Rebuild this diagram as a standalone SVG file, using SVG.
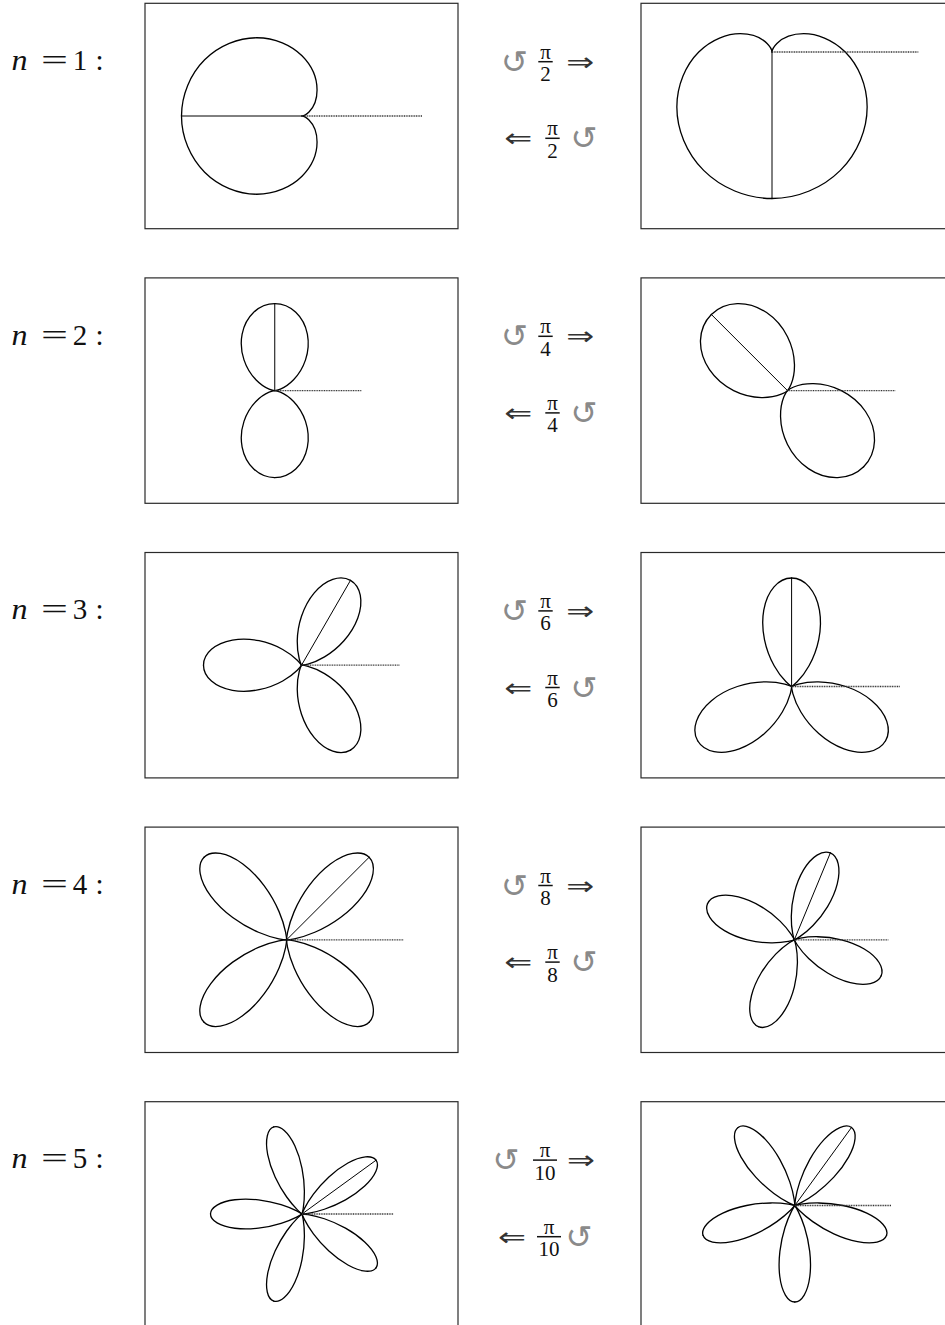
<svg xmlns="http://www.w3.org/2000/svg" xmlns:xlink="http://www.w3.org/1999/xlink" width="945" height="1325" viewBox="0 0 945 1325">
<style>
.box{fill:none;stroke:#2a2a2a;stroke-width:1.2}
.crv{fill:none;stroke:#000;stroke-linecap:round;stroke-linejoin:round}
.dia{stroke:#000;stroke-width:1}
.ref{stroke:#333;stroke-width:1.3;stroke-dasharray:1 0.7}
.lbl{font-family:"Liberation Serif","Times New Roman",serif;font-size:29px;fill:#111}
.it{font-style:italic}
.fr{font-family:"Liberation Serif","Times New Roman",serif;font-size:21px;fill:#111;text-anchor:middle}
.bar{stroke:#111;stroke-width:1.5}
.rot{font-family:"DejaVu Sans",sans-serif;font-size:32px;fill:#8a8a8a;text-anchor:middle;dominant-baseline:central}
.arr{font-family:"DejaVu Sans",sans-serif;font-size:26px;fill:#333;text-anchor:middle;dominant-baseline:central}
</style>
<defs>
<path id="h1" d="M1,0C1,-0.1745 0.9272,-0.3473 0.8080,-0.4665C0.6888,-0.5857 0.5262,-0.6495 0.375,-0.6495C0.2239,-0.6495 0.0873,-0.5873 0,-0.5C-0.0873,-0.4127 -0.125,-0.3038 -0.125,-0.2165C-0.125,-0.1292 -0.0900,-0.0654 -0.0580,-0.0335C-0.0261,-0.0016 0,0 0,0"/>
<path id="h2" d="M1,0C1,-0.0873 0.9644,-0.1741 0.9012,-0.2415C0.8380,-0.3088 0.7477,-0.3561 0.6495,-0.375C0.5513,-0.3939 0.4461,-0.3844 0.3536,-0.3536C0.2610,-0.3227 0.1817,-0.2710 0.125,-0.2165C0.0683,-0.1620 0.0343,-0.1053 0.0173,-0.0647C0.0004,-0.0241 0,0 0,0"/>
<path id="h3" d="M1,0C1,-0.0582 0.9712,-0.1161 0.9188,-0.1620C0.8664,-0.2079 0.7907,-0.2414 0.7048,-0.2565C0.6188,-0.2717 0.5231,-0.2684 0.4330,-0.25C0.3429,-0.2316 0.2588,-0.1981 0.1915,-0.1607C0.1243,-0.1233 0.0741,-0.0822 0.0431,-0.0513C0.0120,-0.0204 0,0 0,0"/>
<path id="h4" d="M1,0C1,-0.0436 0.9736,-0.0871 0.9250,-0.1218C0.8765,-0.1565 0.8059,-0.1821 0.7244,-0.1941C0.6430,-0.2062 0.5509,-0.2046 0.4619,-0.1913C0.3730,-0.1781 0.2874,-0.1533 0.2165,-0.125C0.1456,-0.0967 0.0895,-0.0650 0.0531,-0.0408C0.0167,-0.0165 0,0 0,0"/>
<path id="h5" d="M1,0C1,-0.0349 0.9747,-0.0697 0.9279,-0.0975C0.8811,-0.1254 0.8130,-0.1460 0.7336,-0.1559C0.6542,-0.1658 0.5639,-0.1649 0.4755,-0.1545C0.3871,-0.1441 0.3010,-0.1245 0.2284,-0.1017C0.1558,-0.0789 0.0970,-0.0533 0.0580,-0.0335C0.0191,-0.0137 0,0 0,0"/>
<g id="L1"><use href="#h1"/><use href="#h1" transform="scale(1,-1)"/></g>
<g id="L2"><use href="#h2"/><use href="#h2" transform="scale(1,-1)"/></g>
<g id="L3"><use href="#h3"/><use href="#h3" transform="scale(1,-1)"/></g>
<g id="L4"><use href="#h4"/><use href="#h4" transform="scale(1,-1)"/></g>
<g id="L5"><use href="#h5"/><use href="#h5" transform="scale(1,-1)"/></g>
</defs>
<rect width="945" height="1325" fill="#fff"/>

<!-- Row 1 -->
<g id="row1-label">
<text class="lbl it" x="11.5" y="70" textLength="16" lengthAdjust="spacingAndGlyphs">n</text>
<text class="lbl" x="41" y="70" textLength="27" lengthAdjust="spacingAndGlyphs">=</text>
<text class="lbl" x="80" y="70" text-anchor="middle">1</text>
<text class="lbl" x="99.5" y="70" text-anchor="middle">:</text>
</g>
<g id="row1-left">
<rect class="box" x="145" y="3.3" width="313" height="225.4"/>
<g class="crv" transform="translate(302,116) scale(120.5)" stroke-width="0.0108"><use href="#L1" transform="rotate(180)"/></g>
<line class="dia" x1="302" y1="116" x2="181.5" y2="116"/>
<line class="ref" x1="302" y1="116" x2="422.5" y2="116"/>
</g>
<g id="row1-ops">
<text class="rot" x="514.3" y="61.7">↺</text>
<text class="fr" x="545.5" y="58.7">π</text>
<line class="bar" x1="538.3" y1="61.7" x2="552.7" y2="61.7"/>
<text class="fr" x="545.5" y="81.2">2</text>
<text class="arr" x="580.2" y="61.7" textLength="28" lengthAdjust="spacingAndGlyphs">⇒</text>
<text class="arr" x="518.2" y="138.3" textLength="28" lengthAdjust="spacingAndGlyphs">⇐</text>
<text class="fr" x="552.5" y="135.3">π</text>
<line class="bar" x1="545.3" y1="138.3" x2="559.7" y2="138.3"/>
<text class="fr" x="552.5" y="157.8">2</text>
<text class="rot" x="583.8" y="138.3">↺</text>
</g>
<g id="row1-right">
<rect class="box" x="641" y="3.3" width="313" height="225.4"/>
<g class="crv" transform="translate(772,52) scale(146.5)" stroke-width="0.0089"><use href="#L1" transform="rotate(90)"/></g>
<line class="dia" x1="772" y1="52" x2="772" y2="198.5"/>
<line class="ref" x1="772" y1="52" x2="918.5" y2="52"/>
</g>

<!-- Row 2 -->
<g id="row2-label">
<text class="lbl it" x="11.5" y="344.6" textLength="16" lengthAdjust="spacingAndGlyphs">n</text>
<text class="lbl" x="41" y="344.6" textLength="27" lengthAdjust="spacingAndGlyphs">=</text>
<text class="lbl" x="80" y="344.6" text-anchor="middle">2</text>
<text class="lbl" x="99.5" y="344.6" text-anchor="middle">:</text>
</g>
<g id="row2-left">
<rect class="box" x="145" y="277.9" width="313" height="225.4"/>
<g class="crv" transform="translate(274.75,390.6) scale(87)" stroke-width="0.0149"><use href="#L2" transform="rotate(-90)"/><use href="#L2" transform="rotate(90)"/></g>
<line class="dia" x1="274.75" y1="390.6" x2="274.75" y2="303.6"/>
<line class="ref" x1="274.75" y1="390.6" x2="361.75" y2="390.6"/>
</g>
<g id="row2-ops">
<text class="rot" x="514.3" y="336.3">↺</text>
<text class="fr" x="545.5" y="333.3">π</text>
<line class="bar" x1="538.3" y1="336.3" x2="552.7" y2="336.3"/>
<text class="fr" x="545.5" y="355.8">4</text>
<text class="arr" x="580.2" y="336.3" textLength="28" lengthAdjust="spacingAndGlyphs">⇒</text>
<text class="arr" x="518.2" y="412.9" textLength="28" lengthAdjust="spacingAndGlyphs">⇐</text>
<text class="fr" x="552.5" y="409.9">π</text>
<line class="bar" x1="545.3" y1="412.9" x2="559.7" y2="412.9"/>
<text class="fr" x="552.5" y="432.4">4</text>
<text class="rot" x="583.8" y="412.9">↺</text>
</g>
<g id="row2-right">
<rect class="box" x="641" y="277.9" width="313" height="225.4"/>
<g class="crv" transform="translate(787.5,390.6) scale(107.7)" stroke-width="0.0121"><use href="#L2" transform="rotate(-135)"/><use href="#L2" transform="rotate(45)"/></g>
<line class="dia" x1="787.5" y1="390.6" x2="711.34" y2="314.44"/>
<line class="ref" x1="787.5" y1="390.6" x2="895.2" y2="390.6"/>
</g>

<!-- Row 3 -->
<g id="row3-label">
<text class="lbl it" x="11.5" y="619.2" textLength="16" lengthAdjust="spacingAndGlyphs">n</text>
<text class="lbl" x="41" y="619.2" textLength="27" lengthAdjust="spacingAndGlyphs">=</text>
<text class="lbl" x="80" y="619.2" text-anchor="middle">3</text>
<text class="lbl" x="99.5" y="619.2" text-anchor="middle">:</text>
</g>
<g id="row3-left">
<rect class="box" x="145" y="552.5" width="313" height="225.4"/>
<g class="crv" transform="translate(301.5,665.2) scale(98)" stroke-width="0.0133"><use href="#L3" transform="rotate(-60)"/><use href="#L3" transform="rotate(180)"/><use href="#L3" transform="rotate(60)"/></g>
<line class="dia" x1="301.5" y1="665.2" x2="350.5" y2="580.33"/>
<line class="ref" x1="301.5" y1="665.2" x2="399.5" y2="665.2"/>
</g>
<g id="row3-ops">
<text class="rot" x="514.3" y="610.9">↺</text>
<text class="fr" x="545.5" y="607.9">π</text>
<line class="bar" x1="538.3" y1="610.9" x2="552.7" y2="610.9"/>
<text class="fr" x="545.5" y="630.4">6</text>
<text class="arr" x="580.2" y="610.9" textLength="28" lengthAdjust="spacingAndGlyphs">⇒</text>
<text class="arr" x="518.2" y="687.5" textLength="28" lengthAdjust="spacingAndGlyphs">⇐</text>
<text class="fr" x="552.5" y="684.5">π</text>
<line class="bar" x1="545.3" y1="687.5" x2="559.7" y2="687.5"/>
<text class="fr" x="552.5" y="707">6</text>
<text class="rot" x="583.8" y="687.5">↺</text>
</g>
<g id="row3-right">
<rect class="box" x="641" y="552.5" width="313" height="225.4"/>
<g class="crv" transform="translate(791.6,686.5) scale(108.5)" stroke-width="0.012"><use href="#L3" transform="rotate(-90)"/><use href="#L3" transform="rotate(150)"/><use href="#L3" transform="rotate(30)"/></g>
<line class="dia" x1="791.6" y1="686.5" x2="791.6" y2="578"/>
<line class="ref" x1="791.6" y1="686.5" x2="900.1" y2="686.5"/>
</g>

<!-- Row 4 -->
<g id="row4-label">
<text class="lbl it" x="11.5" y="893.8" textLength="16" lengthAdjust="spacingAndGlyphs">n</text>
<text class="lbl" x="41" y="893.8" textLength="27" lengthAdjust="spacingAndGlyphs">=</text>
<text class="lbl" x="80" y="893.8" text-anchor="middle">4</text>
<text class="lbl" x="99.5" y="893.8" text-anchor="middle">:</text>
</g>
<g id="row4-left">
<rect class="box" x="145" y="827.1" width="313" height="225.4"/>
<g class="crv" transform="translate(286.6,939.8) scale(116.7)" stroke-width="0.0111"><use href="#L4" transform="rotate(-45)"/><use href="#L4" transform="rotate(-135)"/><use href="#L4" transform="rotate(135)"/><use href="#L4" transform="rotate(45)"/></g>
<line class="dia" x1="286.6" y1="939.8" x2="369.12" y2="857.28"/>
<line class="ref" x1="286.6" y1="939.8" x2="403.3" y2="939.8"/>
</g>
<g id="row4-ops">
<text class="rot" x="514.3" y="885.5">↺</text>
<text class="fr" x="545.5" y="882.5">π</text>
<line class="bar" x1="538.3" y1="885.5" x2="552.7" y2="885.5"/>
<text class="fr" x="545.5" y="905">8</text>
<text class="arr" x="580.2" y="885.5" textLength="28" lengthAdjust="spacingAndGlyphs">⇒</text>
<text class="arr" x="518.2" y="962.1" textLength="28" lengthAdjust="spacingAndGlyphs">⇐</text>
<text class="fr" x="552.5" y="959.1">π</text>
<line class="bar" x1="545.3" y1="962.1" x2="559.7" y2="962.1"/>
<text class="fr" x="552.5" y="981.6">8</text>
<text class="rot" x="583.8" y="962.1">↺</text>
</g>
<g id="row4-right">
<rect class="box" x="641" y="827.1" width="313" height="225.4"/>
<g class="crv" transform="translate(794.35,939.8) scale(94)" stroke-width="0.0138"><use href="#L4" transform="rotate(-67.5)"/><use href="#L4" transform="rotate(-157.5)"/><use href="#L4" transform="rotate(112.5)"/><use href="#L4" transform="rotate(22.5)"/></g>
<line class="dia" x1="794.35" y1="939.8" x2="830.32" y2="852.96"/>
<line class="ref" x1="794.35" y1="939.8" x2="888.35" y2="939.8"/>
</g>

<!-- Row 5 -->
<g id="row5-label">
<text class="lbl it" x="11.5" y="1168.4" textLength="16" lengthAdjust="spacingAndGlyphs">n</text>
<text class="lbl" x="41" y="1168.4" textLength="27" lengthAdjust="spacingAndGlyphs">=</text>
<text class="lbl" x="80" y="1168.4" text-anchor="middle">5</text>
<text class="lbl" x="99.5" y="1168.4" text-anchor="middle">:</text>
</g>
<g id="row5-left">
<rect class="box" x="145" y="1101.7" width="313" height="225.4"/>
<g class="crv" transform="translate(302,1214) scale(91.5)" stroke-width="0.0142"><use href="#L5" transform="rotate(-36)"/><use href="#L5" transform="rotate(-108)"/><use href="#L5" transform="rotate(180)"/><use href="#L5" transform="rotate(108)"/><use href="#L5" transform="rotate(36)"/></g>
<line class="dia" x1="302" y1="1214" x2="376.02" y2="1160.22"/>
<line class="ref" x1="302" y1="1214" x2="393.5" y2="1214"/>
</g>
<g id="row5-ops">
<text class="rot" x="506" y="1160.1">↺</text>
<text class="fr" x="545" y="1157.1">π</text>
<line class="bar" x1="533" y1="1160.1" x2="557" y2="1160.1"/>
<text class="fr" x="545" y="1179.6">10</text>
<text class="arr" x="581" y="1160.1" textLength="28" lengthAdjust="spacingAndGlyphs">⇒</text>
<text class="arr" x="512" y="1236.7" textLength="28" lengthAdjust="spacingAndGlyphs">⇐</text>
<text class="fr" x="549" y="1233.7">π</text>
<line class="bar" x1="537" y1="1236.7" x2="561" y2="1236.7"/>
<text class="fr" x="549" y="1256.2">10</text>
<text class="rot" x="579" y="1236.7">↺</text>
</g>
<g id="row5-right">
<rect class="box" x="641" y="1101.7" width="313" height="225.4"/>
<g class="crv" transform="translate(794.8,1205.5) scale(96.5)" stroke-width="0.0135"><use href="#L5" transform="rotate(-54)"/><use href="#L5" transform="rotate(-126)"/><use href="#L5" transform="rotate(162)"/><use href="#L5" transform="rotate(90)"/><use href="#L5" transform="rotate(18)"/></g>
<line class="dia" x1="794.8" y1="1205.5" x2="851.52" y2="1127.43"/>
<line class="ref" x1="794.8" y1="1205.5" x2="891.3" y2="1205.5"/>
</g>
</svg>
